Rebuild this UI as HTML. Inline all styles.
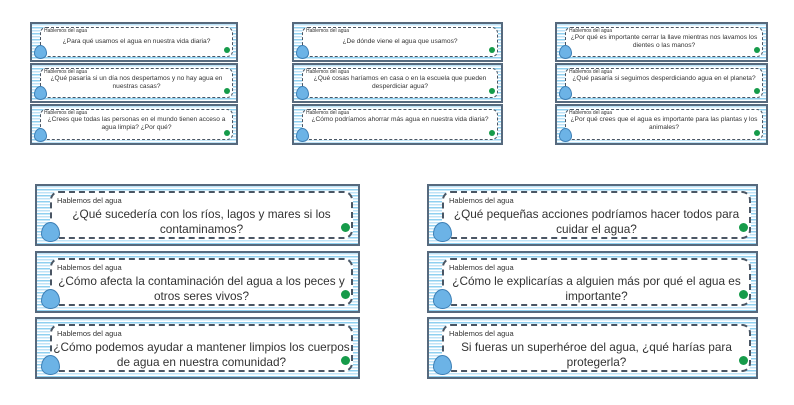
<!DOCTYPE html>
<html><head><meta charset="utf-8"><style>
body{margin:0;width:794px;height:405px;background:#fff;position:relative;overflow:hidden;font-family:"Liberation Sans",sans-serif}
.c{position:absolute;box-sizing:border-box;border:2px solid #56697d;background:repeating-linear-gradient(180deg,#bfe3f7 0 1.5px,#fff 1.5px 3px,#8fd0f0 3px 4.5px,#fff 4.5px 6px)}
.in{position:absolute;background:#fff;border:1.5px dashed #4a5664;border-radius:6px}
.h{position:absolute;color:#333;white-space:nowrap}
.q{position:absolute;color:#333;text-align:center;line-height:1.25}
.d{position:absolute;background:#6cb3e6;border-radius:50% 50% 50% 50%/60% 60% 40% 40%;border:1px solid #3d7fb5}
.g{position:absolute;background:#169b4a;border-radius:50%}
.s .in{left:8px;top:3px;right:3px;bottom:3px}
.s .h{left:12px;top:4px;font-size:5px}
.s .q{left:10px;right:5px;top:10px;font-size:6.6px}
.s .d{left:2px;bottom:1px;width:11px;height:12px}
.s .g{right:6px;bottom:7px;width:6px;height:6px}
.b .in{left:13px;top:5px;right:5px;bottom:5px;border-width:2px;border-radius:9px}
.b .h{left:20px;top:10px;font-size:7.5px}
.b .q{left:16px;right:8px;top:21px;font-size:11.8px}
.b .d{left:4px;bottom:2px;width:17px;height:18px}
.b .g{right:8px;bottom:12px;width:9px;height:9px}
</style></head><body>

<div class="c s" style="left:30px;top:22px;width:208px;height:40px"><div class="in"></div><div class="h">Hablemos del agua</div><div class="q" style="top:14px">¿Para qué usamos el agua en nuestra vida diaria?</div><div class="d"></div><div class="g"></div></div>
<div class="c s" style="left:30px;top:63px;width:208px;height:40px"><div class="in"></div><div class="h">Hablemos del agua</div><div class="q">¿Qué pasaría si un día nos despertamos y no hay agua en nuestras casas?</div><div class="d"></div><div class="g"></div></div>
<div class="c s" style="left:30px;top:104px;width:208px;height:41px"><div class="in"></div><div class="h">Hablemos del agua</div><div class="q">¿Crees que todas las personas en el mundo tienen acceso a agua limpia? ¿Por qué?</div><div class="d"></div><div class="g"></div></div>

<div class="c s" style="left:292px;top:22px;width:211px;height:40px"><div class="in"></div><div class="h">Hablemos del agua</div><div class="q" style="top:14px">¿De dónde viene el agua que usamos?</div><div class="d"></div><div class="g"></div></div>
<div class="c s" style="left:292px;top:63px;width:211px;height:40px"><div class="in"></div><div class="h">Hablemos del agua</div><div class="q">¿Qué cosas haríamos en casa o en la escuela que pueden desperdiciar agua?</div><div class="d"></div><div class="g"></div></div>
<div class="c s" style="left:292px;top:104px;width:211px;height:41px"><div class="in"></div><div class="h">Hablemos del agua</div><div class="q">¿Cómo podríamos ahorrar más agua en nuestra vida diaria?</div><div class="d"></div><div class="g"></div></div>

<div class="c s" style="left:555px;top:22px;width:213px;height:40px"><div class="in"></div><div class="h">Hablemos del agua</div><div class="q">¿Por qué es importante cerrar la llave mientras nos lavamos los dientes o las manos?</div><div class="d"></div><div class="g"></div></div>
<div class="c s" style="left:555px;top:63px;width:213px;height:40px"><div class="in"></div><div class="h">Hablemos del agua</div><div class="q">¿Qué pasaría si seguimos desperdiciando agua en el planeta?</div><div class="d"></div><div class="g"></div></div>
<div class="c s" style="left:555px;top:104px;width:213px;height:41px"><div class="in"></div><div class="h">Hablemos del agua</div><div class="q">¿Por qué crees que el agua es importante para las plantas y los animales?</div><div class="d"></div><div class="g"></div></div>

<div class="c b" style="left:35px;top:184px;width:325px;height:62px"><div class="in"></div><div class="h">Hablemos del agua</div><div class="q">¿Qué sucedería con los ríos, lagos y mares si los contaminamos?</div><div class="d"></div><div class="g"></div></div>
<div class="c b" style="left:35px;top:251px;width:325px;height:62px"><div class="in"></div><div class="h">Hablemos del agua</div><div class="q">¿Cómo afecta la contaminación del agua a los peces y otros seres vivos?</div><div class="d"></div><div class="g"></div></div>
<div class="c b" style="left:35px;top:317px;width:325px;height:62px"><div class="in"></div><div class="h">Hablemos del agua</div><div class="q">¿Cómo podemos ayudar a mantener limpios los cuerpos de agua en nuestra comunidad?</div><div class="d"></div><div class="g"></div></div>

<div class="c b" style="left:427px;top:184px;width:331px;height:62px"><div class="in"></div><div class="h">Hablemos del agua</div><div class="q">¿Qué pequeñas acciones podríamos hacer todos para cuidar el agua?</div><div class="d"></div><div class="g"></div></div>
<div class="c b" style="left:427px;top:251px;width:331px;height:62px"><div class="in"></div><div class="h">Hablemos del agua</div><div class="q">¿Cómo le explicarías a alguien más por qué el agua es importante?</div><div class="d"></div><div class="g"></div></div>
<div class="c b" style="left:427px;top:317px;width:331px;height:62px"><div class="in"></div><div class="h">Hablemos del agua</div><div class="q">Si fueras un superhéroe del agua, ¿qué harías para protegerla?</div><div class="d"></div><div class="g"></div></div>

</body></html>
